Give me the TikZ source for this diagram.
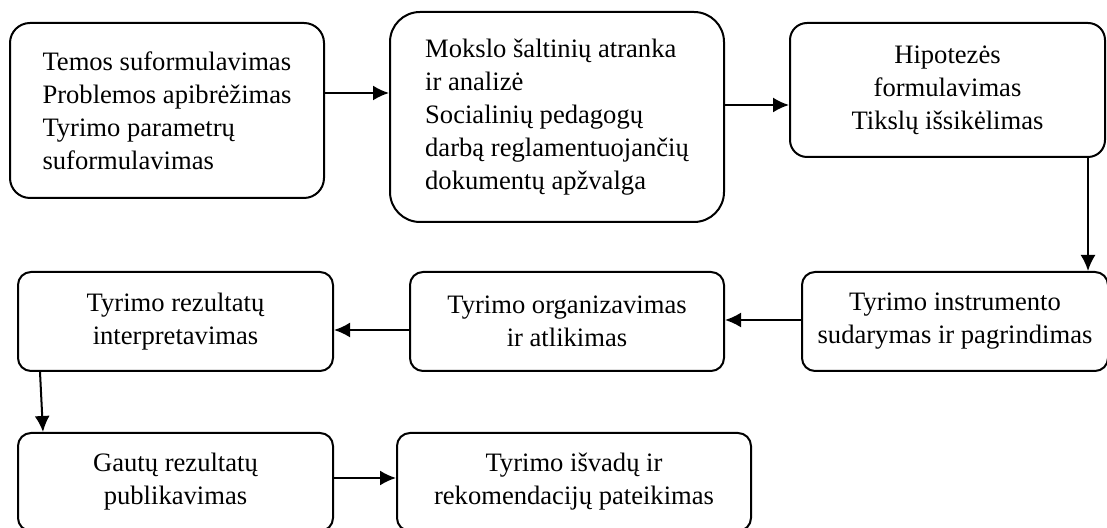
\documentclass[tikz,border=0pt]{standalone}
\usepackage{fontspec}
\setmainfont{Liberation Serif}
\usepackage{tikz}
\usetikzlibrary{arrows.meta}
\usetikzlibrary{positioning}

\tikzset{
  stagebox/.style={draw, line width=1pt, rounded corners=6.5pt, inner sep=0pt,
    font=\fontsize{13.3}{16.5}\selectfont, align=center},
  flow/.style={line width=1pt, -{Latex[length=8pt,width=7.5pt]}}
}

\begin{document}
\begin{tikzpicture}[x=0.5pt,y=-0.5pt]
  \useasboundingbox (0,0) rectangle (1107,528);
  % top row
  \node[stagebox, rounded corners=10pt, align=left, minimum width=157pt, minimum height=87.5pt] (tema) at (167,110.5)
    {Temos suformulavimas\\Problemos apibrėžimas\\Tyrimo parametrų\\suformulavimas};
  \node[stagebox, rounded corners=15pt, align=left, minimum width=167pt, minimum height=105pt] (saltiniai) at (557,117)
    {Mokslo šaltinių atranka\\ir analizė\\Socialinių pedagogų\\darbą reglamentuojančių\\dokumentų apžvalga};
  \node[stagebox, rounded corners=8.5pt, minimum width=157.5pt, minimum height=67pt] (hipoteze) at (947.5,90)
    {Hipotezės\\formulavimas\\Tikslų išsikėlimas};
  % middle row
  \node[stagebox, minimum width=153pt, minimum height=49.5pt] (instrumentas) at (955,321.5)
    {Tyrimo instrumento\\sudarymas ir pagrindimas};
  \node[stagebox, minimum width=157pt, minimum height=49.5pt] (organizavimas) at (567,321.5)
    {Tyrimo organizavimas\\ir atlikimas};
  \node[stagebox, minimum width=157.5pt, minimum height=49.5pt] (interpretavimas) at (175.5,321.5)
    {Tyrimo rezultatų\\interpretavimas};
  % bottom row
  \node[stagebox, minimum width=157.5pt, minimum height=49pt] (publikavimas) at (175.5,482)
    {Gautų rezultatų\\publikavimas};
  \node[stagebox, minimum width=177pt, minimum height=49pt] (isvados) at (574,482)
    {Tyrimo išvadų ir\\rekomendacijų pateikimas};

  \draw[flow] ([yshift=8.75pt]tema.east) -- ([yshift=8.75pt]tema.east -| saltiniai.west);
  \draw[flow] ([yshift=6pt]saltiniai.east) -- ([yshift=6pt]saltiniai.east -| hipoteze.west);
  \draw[flow] ([xshift=70.25pt]hipoteze.south) -- ([xshift=70.25pt]hipoteze.south |- instrumentas.north);
  \draw[flow] ([yshift=0.75pt]instrumentas.west) -- ([yshift=0.75pt]instrumentas.west -| organizavimas.east);
  \draw[flow] ([yshift=-4.25pt]organizavimas.west) -- ([yshift=-4.25pt]organizavimas.west -| interpretavimas.east);
  \draw[flow] ([xshift=-67.75pt]interpretavimas.south) -- ([xshift=-66.25pt]publikavimas.north);
  \draw[flow] ([yshift=2pt]publikavimas.east) -- ([yshift=2pt]publikavimas.east -| isvados.west);
\end{tikzpicture}
\end{document}
